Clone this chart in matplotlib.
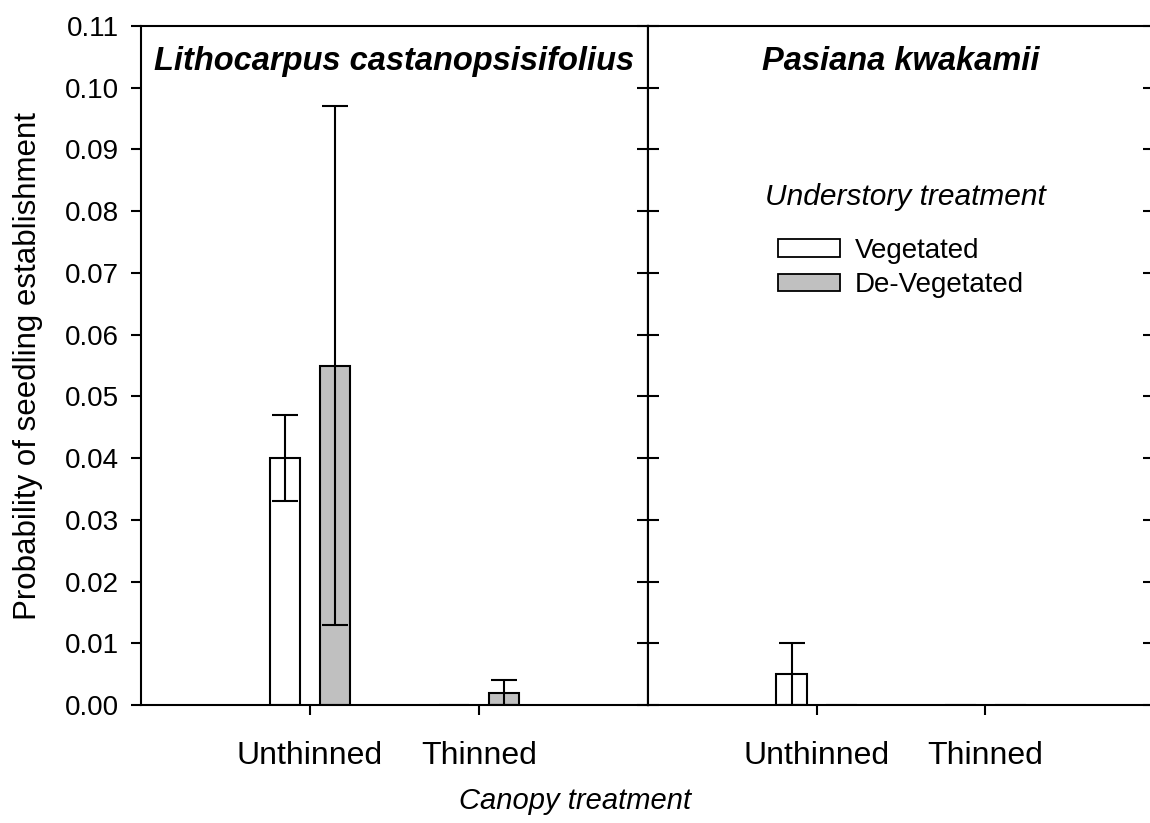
import matplotlib
matplotlib.use("Agg")
import matplotlib.pyplot as plt
import numpy as np
from matplotlib.patches import Patch

plt.rcParams['font.family'] = ['Liberation Sans', 'DejaVu Sans']

categories = ['Unthinned', 'Thinned']
species = ['Lithocarpus castanopsisifolius', 'Pasiana kwakamii']
series = ['Vegetated', 'De-Vegetated']
colors = ['white', '#c0c0c0']

lith_veg = [0.040, 0.0]
lith_veg_err = [0.007, 0.0]
lith_deveg = [0.055, 0.002]
lith_deveg_err = [0.042, 0.002]
pas_veg = [0.005, 0.0]
pas_veg_err = [0.005, 0.0]
pas_deveg = [0.0, 0.0]
pas_deveg_err = [0.0, 0.0]

yticks = [0.00, 0.01, 0.02, 0.03, 0.04, 0.05, 0.06, 0.07, 0.08, 0.09, 0.10, 0.11]

W, H = 1150, 823
fig = plt.figure(figsize=(W / 100, H / 100), dpi=100)
y0 = 1 - 705 / H
hgt = (705 - 26) / H
ax1 = fig.add_axes([141 / W, y0, 507 / W, hgt])
ax2 = fig.add_axes([648 / W, y0, 506 / W, hgt])

lw = 1.5
data = [
    (ax1, [lith_veg, lith_deveg], [lith_veg_err, lith_deveg_err]),
    (ax2, [pas_veg, pas_deveg], [pas_veg_err, pas_deveg_err]),
]
x = np.arange(1, len(categories) + 1)
off = 0.148
bw = 0.183
for i, (ax, vals, errs) in enumerate(data):
    for j, (v, e) in enumerate(zip(vals, errs)):
        xs = x + (j - 0.5) * 2 * off
        v = np.array(v)
        e = np.array(e)
        ax.bar(xs, v, width=bw, color=colors[j], edgecolor='black', linewidth=lw, zorder=2)
        m = e > 0
        if m.any():
            ax.errorbar(xs[m], v[m], yerr=e[m], fmt='none', ecolor='black',
                        elinewidth=lw, capsize=9.5, capthick=lw, zorder=3)
    ax.set_xlim(0, 3)
    ax.set_ylim(0, 0.11)
    ax.set_xticks(x)
    ax.set_xticklabels(categories, fontsize=23)
    ax.set_yticks(yticks)
    ax.tick_params(axis='x', direction='out', length=7, width=lw, pad=19)
    for s in ax.spines.values():
        s.set_linewidth(lw)
    ax.text(1.5, 0.1042, species[i], ha='center', va='center', fontsize=23.5,
            fontweight='bold', fontstyle='italic')

ax1.set_yticklabels([f'{t:.2f}' for t in yticks], fontsize=20)
ax1.yaxis.set_ticks_position('left')
ax1.tick_params(axis='y', direction='out', length=7, width=lw, pad=9, labelleft=True)
ax1r = ax1.secondary_yaxis('right')
ax1r.set_yticks(yticks)
ax1r.tick_params(direction='in', length=8, width=lw, labelright=False)
ax1r.spines['right'].set_linewidth(lw)

ax2.yaxis.set_ticks_position('both')
ax2.tick_params(axis='y', direction='in', length=8, width=lw, labelleft=False, labelright=False)

ax1.set_ylabel('Probability of seedling establishment', fontsize=22.5)
ax1.yaxis.set_label_coords((43 - 141) / 507, 0.5)
fig.text(575 / W, 1 - 809 / H, 'Canopy treatment', ha='center', va='baseline',
         fontsize=21, fontstyle='italic')

handles = [Patch(facecolor=c, edgecolor='black', linewidth=1.3) for c in colors]
fig.text(765 / W, 1 - 197 / H, 'Understory treatment', ha='left', va='center',
         fontsize=21.5, fontstyle='italic')
leg = ax2.legend(handles, series, loc='upper left', bbox_to_anchor=(778 / W, 1 - 238 / H),
                 bbox_transform=fig.transFigure, frameon=False, fontsize=20,
                 handlelength=2.23, handleheight=0.6, handletextpad=0.55, labelspacing=0.3,
                 borderaxespad=0, borderpad=0)

fig.savefig('out.png', dpi=100)
